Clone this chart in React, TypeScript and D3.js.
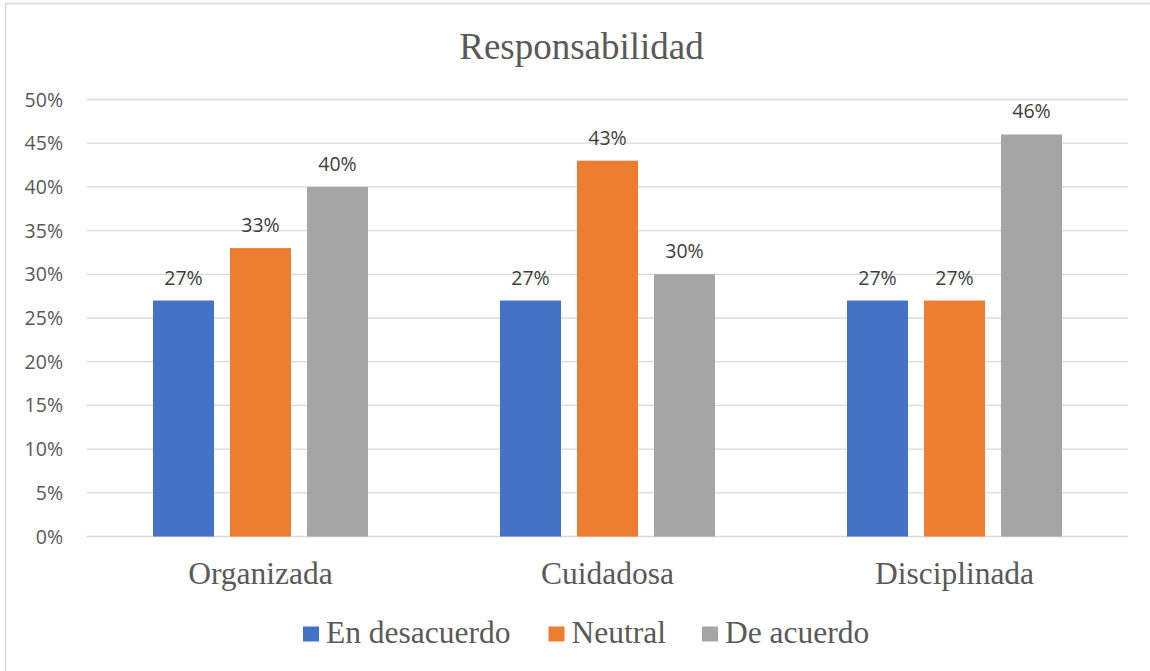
import React from "react";
import * as d3 from "d3";

const categories = ["Organizada", "Cuidadosa", "Disciplinada"];
const seriesNames = ["En desacuerdo", "Neutral", "De acuerdo"];
const enDesacuerdo = [27, 27, 27];
const neutral = [33, 43, 27];
const deAcuerdo = [40, 30, 46];
const yTicks = [0, 5, 10, 15, 20, 25, 30, 35, 40, 45, 50];
const colors = ["#4472C4", "#ED7D31", "#A5A5A5"];
const title = "Responsabilidad";

const W = 1150;
const H = 671;

export default function App() {
  const series = [enDesacuerdo, neutral, deAcuerdo];
  const left = 87;
  const right = 1128;
  const top = 99.5;
  const bottom = 536.5;
  const x0 = d3.scaleBand<string>().domain(categories).range([left, right]).paddingInner(0).paddingOuter(0);
  const x1 = d3.scaleBand<string>().domain(seriesNames).range([0, x0.bandwidth()]).paddingInner(0.208).paddingOuter(0.857);
  const y = d3.scaleLinear().domain([0, 50]).range([bottom, top]);
  const sans = "'Open Sans', 'Liberation Sans', sans-serif";
  const serif = "'Liberation Serif', 'DejaVu Serif', serif";

  const legendItems = [
    { name: seriesNames[0], sq: 303, tx: 326 },
    { name: seriesNames[1], sq: 548.5, tx: 571.5 },
    { name: seriesNames[2], sq: 702, tx: 725 },
  ];

  return (
    <>
      <style>{`body{margin:0;}`}</style>
      <svg width={W} height={H} style={{ display: "block" }}>
        <rect x={0} y={0} width={W} height={H} fill="#fff" />
        <rect x={5.5} y={3.5} width={1300} height={800} fill="none" stroke="#d9d9d9" strokeWidth={1.5} />
        <text x={581.5} y={59} textAnchor="middle" fontFamily={serif} fontSize={37} fill="#595959">
          {title}
        </text>
        {yTicks.map((t) => (
          <g key={t}>
            <line x1={left} x2={right} y1={y(t)} y2={y(t)} stroke="#d9d9d9" strokeWidth={1.3} />
            <text x={63} y={y(t) + 7} textAnchor="end" fontFamily={sans} fontSize={19.5} fill="#595959">
              {t}%
            </text>
          </g>
        ))}
        {categories.map((c, ci) => (
          <g key={c}>
            {series.map((s, si) => {
              const bx = (x0(c) as number) + (x1(seriesNames[si]) as number);
              const bw = x1.bandwidth();
              return (
                <g key={si}>
                  <rect x={bx} y={y(s[ci])} width={bw} height={bottom - y(s[ci])} fill={colors[si]} />
                  <text x={bx + bw / 2} y={y(s[ci]) - 16} textAnchor="middle" fontFamily={sans} fontSize={19.5} fill="#404040">
                    {s[ci]}%
                  </text>
                </g>
              );
            })}
            <text x={(x0(c) as number) + x0.bandwidth() / 2} y={584} textAnchor="middle" fontFamily={serif} fontSize={31.5} fill="#595959">
              {c}
            </text>
          </g>
        ))}
        {legendItems.map((l, i) => (
          <g key={l.name}>
            <rect x={l.sq} y={626.5} width={16} height={15} fill={colors[i]} />
            <text x={l.tx} y={643} fontFamily={serif} fontSize={31.5} fill="#595959">
              {l.name}
            </text>
          </g>
        ))}
      </svg>
    </>
  );
}
